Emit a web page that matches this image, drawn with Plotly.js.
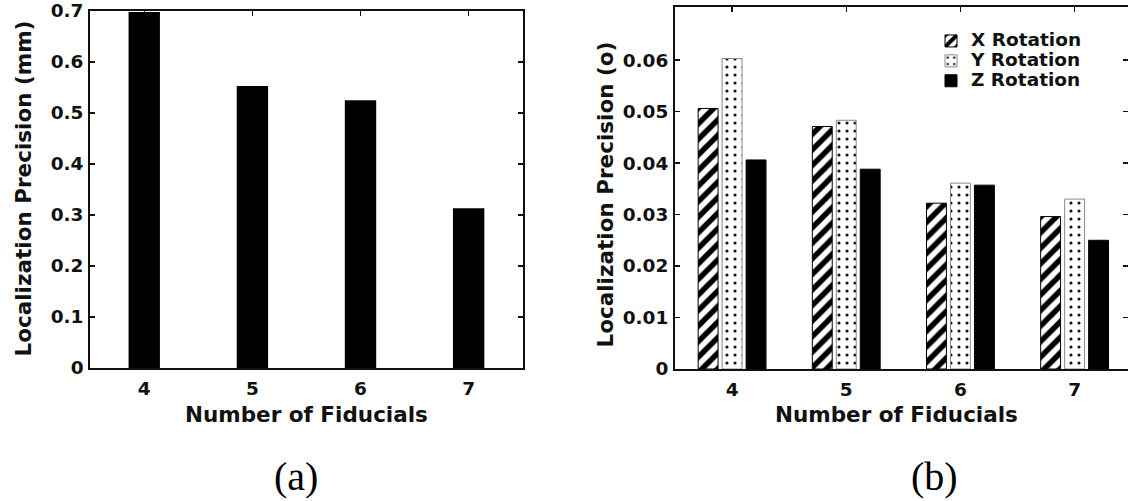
<!DOCTYPE html>
<html>
<head>
<meta charset="utf-8">
<script src="https://cdn.plot.ly/plotly-3.0.1.min.js"></script>
<style>html,body{margin:0;padding:0;background:#fff;}#chart{width:1128px;height:501px;}</style>
</head>
<body>
<div id="chart"></div>
<script>
// ---- data ----
const fiducials = [4, 5, 6, 7];
const fiducialLabels = ['4', '5', '6', '7'];
const precisionMm = [0.698, 0.553, 0.525, 0.313];
const xRotation = [0.0506, 0.0471, 0.0322, 0.0296];
const yRotation = [0.0603, 0.0483, 0.0361, 0.0330];
const zRotation = [0.0406, 0.0388, 0.0357, 0.0250];
const seriesNames = ['X Rotation', 'Y Rotation', 'Z Rotation'];
const yTicksA = [0, 0.1, 0.2, 0.3, 0.4, 0.5, 0.6, 0.7];
const yTickTextA = ['0', '0.1', '0.2', '0.3', '0.4', '0.5', '0.6', '0.7'];
const yTicksB = [0, 0.01, 0.02, 0.03, 0.04, 0.05, 0.06];
const yTickTextB = ['0', '0.01', '0.02', '0.03', '0.04', '0.05', '0.06'];
const yTitleA = 'Localization Precision (mm)';
const yTitleB = 'Localization Precision (o)';
const xTitle = 'Number of Fiducials';
const panelLabels = ['(a)', '(b)'];

// ---- layout helpers ----
const W = 1128, H = 501;
const px = v => v / W;
const py = v => 1 - v / H;
const FONT = '"DejaVu Sans", Verdana, sans-serif';
const ink = '#111111';
const legendName = s => '<span style="font-size:18.5px">' + s + '</span>';

const traces = [
  {type: 'bar', x: fiducials, y: precisionMm, xaxis: 'x', yaxis: 'y', width: 0.29,
   marker: {color: '#000000', line: {width: 0}}, showlegend: false},
  {type: 'bar', name: legendName(seriesNames[0]), x: fiducials, y: xRotation, xaxis: 'x2', yaxis: 'y2',
   marker: {color: '#ffffff', line: {color: '#000000', width: 1},
            pattern: {shape: '/', fgcolor: '#000000', bgcolor: '#ffffff', size: 11, solidity: 0.5}}},
  {type: 'bar', name: legendName(seriesNames[1]), x: fiducials, y: yRotation, xaxis: 'x2', yaxis: 'y2',
   marker: {color: '#ffffff', line: {color: '#8a8a8a', width: 1},
            pattern: {shape: '.', fgcolor: '#111111', bgcolor: '#ffffff', size: 8, solidity: 0.12}}},
  {type: 'bar', name: legendName(seriesNames[2]), x: fiducials, y: zRotation, xaxis: 'x2', yaxis: 'y2',
   marker: {color: '#000000', line: {color: '#000000', width: 1}}}
];

const tickFont = {family: FONT, size: 18.5, color: ink, weight: 'bold'};
function xAx(domain, range, anchor) {
  return {domain: domain, range: range, anchor: anchor, tickmode: 'array', tickvals: fiducials,
    ticktext: fiducialLabels, ticks: 'inside', ticklen: 5, tickwidth: 1.2, tickcolor: ink,
    showline: true, linecolor: ink, linewidth: 2, mirror: 'ticks', showgrid: false, zeroline: false,
    tickfont: tickFont, layer: 'below traces', ticklabelstandoff: 3, fixedrange: true};
}
function yAx(domain, range, anchor, vals, text) {
  return {domain: domain, range: range, anchor: anchor, tickmode: 'array', tickvals: vals, ticktext: text,
    ticks: 'inside', ticklen: 5, tickwidth: 1.2, tickcolor: ink, showline: true, linecolor: ink,
    linewidth: 2, mirror: 'ticks', showgrid: false, zeroline: false, tickfont: tickFont,
    ticklabelstandoff: 1, fixedrange: true};
}

const titleFont = {family: FONT, size: 21.5, color: ink, weight: 'bold'};
const serifFont = {family: '"Liberation Serif", "Times New Roman", serif', size: 40, color: '#000'};
const layout = {
  width: W, height: H,
  margin: {l: 0, r: 0, t: 0, b: 0},
  paper_bgcolor: '#ffffff', plot_bgcolor: '#ffffff',
  barmode: 'group', bargap: 0.37, bargroupgap: 0.17,
  xaxis: xAx([px(90.2), px(522.7)], [3.5, 7.5], 'y'),
  yaxis: yAx([py(368), py(10.7)], [0, 0.7005], 'x', yTicksA, yTickTextA),
  xaxis2: xAx([px(675), 1], [3.5, 3.5 + (W - 675) / 114.17], 'y2'),
  yaxis2: yAx([py(369), py(7)], [0, 0.0703], 'x2', yTicksB, yTickTextB),
  showlegend: true,
  legend: {x: px(931), y: py(26), xanchor: 'left', yanchor: 'top', bgcolor: 'rgba(0,0,0,0)',
           font: {family: FONT, size: 13, color: ink, weight: 'bold'}, tracegroupgap: 0,
           itemclick: false, itemdoubleclick: false},
  annotations: [
    {text: yTitleA, xref: 'paper', yref: 'paper', x: px(23), y: py(188.5), textangle: -90,
     showarrow: false, font: titleFont, xanchor: 'center', yanchor: 'middle'},
    {text: yTitleB, xref: 'paper', yref: 'paper', x: px(604.5), y: py(195), textangle: -90,
     showarrow: false, font: titleFont, xanchor: 'center', yanchor: 'middle'},
    {text: xTitle, xref: 'paper', yref: 'paper', x: px(306), y: py(414), showarrow: false,
     font: titleFont, xanchor: 'center', yanchor: 'middle'},
    {text: xTitle, xref: 'paper', yref: 'paper', x: px(896), y: py(414), showarrow: false,
     font: titleFont, xanchor: 'center', yanchor: 'middle'},
    {text: panelLabels[0], xref: 'paper', yref: 'paper', x: px(296), y: 0, showarrow: false,
     font: serifFont, xanchor: 'center', yanchor: 'bottom'},
    {text: panelLabels[1], xref: 'paper', yref: 'paper', x: px(934), y: 0, showarrow: false,
     font: serifFont, xanchor: 'center', yanchor: 'bottom'}
  ]
};

Plotly.newPlot('chart', traces, layout, {staticPlot: true, displayModeBar: false});
</script>
</body>
</html>
